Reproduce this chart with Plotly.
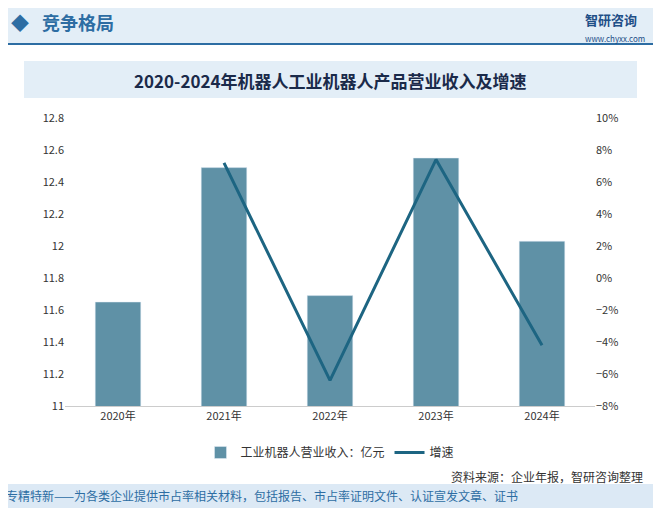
import plotly.graph_objects as go

years = ["2020年", "2021年", "2022年", "2023年", "2024年"]
revenue = [11.65, 12.49, 11.69, 12.55, 12.03]
growth_years = ["2021年", "2022年", "2023年", "2024年"]
growth = [7.2, -6.4, 7.4, -4.2]

W, H = 661, 508
L, R, T, B = 57, 74, 110, 110
PW, PH = W - L - R, H - T - B
DX, DY = 8, 7  # observed render offset

def fx(x):
    return (x - DX - L) / PW

def fy(y):
    return (H - B - (y - DY)) / PH

fig = go.Figure()
fig.add_bar(x=years, y=revenue, name="工业机器人营业收入：亿元", marker_color="#5f91a6", width=0.43)
fig.add_scatter(x=growth_years, y=growth, name="增速", yaxis="y2", mode="lines",
                line=dict(color="#1d6582", width=3))

def rect(x0, y0, x1, y1, color):
    fig.add_shape(type="rect", xref="paper", yref="paper", x0=fx(x0), x1=fx(x1),
                  y0=fy(y1), y1=fy(y0), fillcolor=color, line_width=0, layer="below")

def text(x, y, s, size, color, anchor="center"):
    fig.add_annotation(xref="paper", yref="paper", x=fx(x), y=fy(y), xanchor=anchor,
                       yanchor="middle", text=s, showarrow=False, font=dict(size=size, color=color))

fig.update_layout(
    width=W, height=H, margin=dict(l=L, r=R, t=T, b=B),
    paper_bgcolor="white", plot_bgcolor="white",
    font=dict(family="Noto Sans CJK SC", size=11, color="#333"),
    xaxis=dict(showline=True, linecolor="#ccc", ticks="", tickfont=dict(size=11)),
    yaxis=dict(range=[11, 12.8], dtick=0.2, showgrid=False, tickformat="~g",
               tickfont=dict(size=11)),
    yaxis2=dict(range=[-8, 10], dtick=2, overlaying="y", side="right", showgrid=False,
                ticksuffix="%", tickfont=dict(size=11)),
    legend=dict(orientation="h", x=0.5, xanchor="center", y=fy(437), yanchor="top",
                font=dict(size=12)),
)
rect(0, 0, W, 42, "#e3eef7")
rect(0, 42, W, 44, "#2d6da3")
rect(24, 60, 637, 97, "#e3eef7")
rect(0, 483, W, 508, "#dce9f5")
text(20, 21, "◆", 18, "#2d6da3")
text(40, 21, "<b>竞争格局</b>", 18, "#2d6da3", "left")
text(583, 18, "<b>智研咨询</b>", 13, "#1f4f87", "left")
text(583, 37, "www.chyxx.com", 8, "#1f4f87", "left")
text(330, 79, "<b>2020-2024年机器人工业机器人产品营业收入及增速</b>", 17, "#1a2a4a")
text(645, 475, "资料来源：企业年报，智研咨询整理", 12, "#333", "right")
text(4, 494, "专精特新——为各类企业提供市占率相关材料，包括报告、市占率证明文件、认证宣发文章、证书", 12, "#2d6da3", "left")
fig.write_html("out.html")
